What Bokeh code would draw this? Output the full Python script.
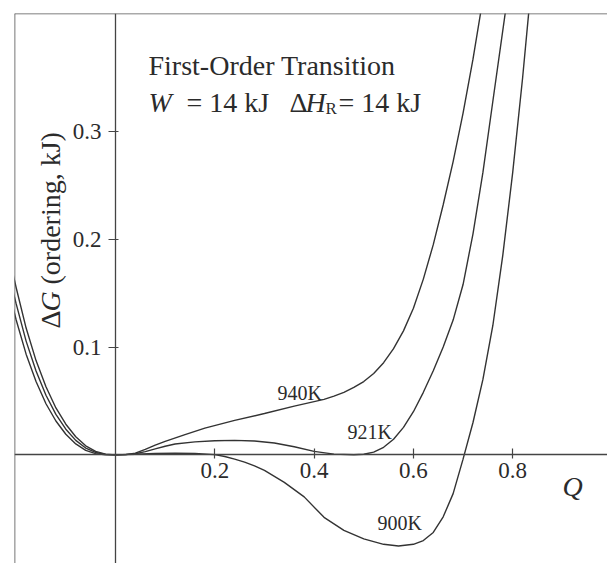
import math
from bokeh.plotting import figure
from bokeh.models import Range1d, FixedTicker, Label, Span
from bokeh.embed import file_html
from bokeh.resources import INLINE

# ---------------- data ----------------
q_940 = [-0.21, -0.20, -0.18, -0.16, -0.14, -0.12, -0.10, -0.08, -0.06, -0.04, -0.02, 0.00,
         0.02, 0.04, 0.06, 0.08, 0.10, 0.14, 0.18, 0.24, 0.30, 0.36, 0.42, 0.44, 0.46, 0.48,
         0.50, 0.52, 0.54, 0.56, 0.58, 0.60, 0.62, 0.64, 0.66, 0.68, 0.70, 0.72, 0.735, 0.745]
g_940 = [0.175, 0.155, 0.1176, 0.0874, 0.0632, 0.0435, 0.0284, 0.0168, 0.0084, 0.0032, 0.0006, 0.0,
         0.0002, 0.0015, 0.0050, 0.0090, 0.0125, 0.0188, 0.0248, 0.0320, 0.0383, 0.0452, 0.0515, 0.0545,
         0.0580, 0.0625, 0.0680, 0.0755, 0.0855, 0.0985, 0.115, 0.136, 0.163, 0.195, 0.232, 0.272,
         0.317, 0.367, 0.409, 0.44]

q_921 = [-0.21, -0.20, -0.18, -0.16, -0.14, -0.12, -0.10, -0.08, -0.06, -0.04, -0.02, 0.00,
         0.02, 0.04, 0.06, 0.08, 0.10, 0.12, 0.16, 0.20, 0.24, 0.28, 0.32, 0.36, 0.40, 0.44,
         0.48, 0.50, 0.52, 0.54, 0.56, 0.58, 0.60, 0.62, 0.64, 0.66, 0.68, 0.70, 0.72, 0.74,
         0.76, 0.785, 0.795]
g_921 = [0.1588, 0.140, 0.1055, 0.0777, 0.0553, 0.0375, 0.0238, 0.0134, 0.0063, 0.0022, 0.0004, 0.0,
         0.0002, 0.0010, 0.0030, 0.0055, 0.0080, 0.0100, 0.0120, 0.0131, 0.0134, 0.0128, 0.0110, 0.0075,
         0.0032, 0.0007, 0.0001, 0.0005, 0.0025, 0.0070, 0.0145, 0.0255, 0.040, 0.058, 0.078, 0.100,
         0.125, 0.158, 0.205, 0.262, 0.328, 0.410, 0.445]

q_900 = [-0.21, -0.20, -0.18, -0.16, -0.14, -0.12, -0.10, -0.08, -0.06, -0.04, -0.02, 0.00,
         0.04, 0.08, 0.12, 0.16, 0.20, 0.22, 0.24, 0.26, 0.28, 0.30, 0.34, 0.38, 0.42, 0.46,
         0.50, 0.54, 0.57, 0.60, 0.62, 0.64, 0.66, 0.68, 0.70, 0.72, 0.74, 0.76, 0.78, 0.80,
         0.82, 0.832, 0.84]
g_900 = [0.1438, 0.1251, 0.0934, 0.068, 0.0474, 0.0314, 0.0191, 0.0101, 0.0042, 0.0011, 0.0001, 0.0,
         0.0005, 0.0012, 0.0016, 0.0013, 0.0002, -0.0015, -0.0040, -0.0068, -0.0102, -0.0145, -0.0255,
         -0.0390, -0.0580, -0.0700, -0.0780, -0.0830, -0.0846, -0.0830, -0.0795, -0.0720, -0.0575,
         -0.0360, -0.0040, 0.030, 0.070, 0.120, 0.185, 0.262, 0.350, 0.409, 0.45]

curve_names = ["940K", "921K", "900K"]
x_ticks = [0.2, 0.4, 0.6, 0.8]
x_tick_labels = ["0.2", "0.4", "0.6", "0.8"]
y_ticks = [0.1, 0.2, 0.3]
y_tick_labels = ["0.1", "0.2", "0.3"]

# ---------------- layout ----------------
W, H = 607, 563
FL, FT = 14, 13            # frame left / top in pixels
X0, X1 = -0.2034, 0.9909
Y0, Y1 = -0.1008, 0.4094
FONT = "Liberation Serif"
INK = "#2b2b2b"
LINE = "#333333"


def dx(px):
    return X0 + (px - FL) / (W - FL) * (X1 - X0)


def dy(py):
    return Y1 - (py - FT) / (H - FT) * (Y1 - Y0)


p = figure(width=W, height=H, output_backend="svg", toolbar_location=None,
           x_range=Range1d(X0, X1), y_range=Range1d(Y0, Y1),
           min_border_left=FL, min_border_top=FT, min_border_right=0, min_border_bottom=0)
p.outline_line_color = None
p.background_fill_color = "white"
p.border_fill_color = "white"
p.xgrid.visible = False
p.ygrid.visible = False

# axes crossing at the origin
xa = p.xaxis[0]
ya = p.yaxis[0]
xa.fixed_location = 0
ya.fixed_location = 0
xa.ticker = FixedTicker(ticks=x_ticks)
ya.ticker = FixedTicker(ticks=y_ticks)
xa.major_label_overrides = {t: l for t, l in zip(x_ticks, x_tick_labels)}
ya.major_label_overrides = {t: l for t, l in zip(y_ticks, y_tick_labels)}
for ax in (xa, ya):
    ax.axis_line_color = "#444444"
    ax.axis_line_width = 1.3
    ax.major_tick_line_color = "#444444"
    ax.major_tick_line_width = 1.2
    ax.minor_tick_line_color = None
    ax.major_label_text_font = FONT
    ax.major_label_text_font_size = "23px"
    ax.major_label_text_color = INK
xa.major_tick_in = 6
xa.major_tick_out = 4
xa.major_label_standoff = 4
ya.major_tick_in = 3
ya.major_tick_out = 7
ya.major_label_standoff = 7

# frame border (left and top)
p.add_layout(Span(location=X0, dimension="height", line_color="#555555", line_width=1.6))
p.add_layout(Span(location=Y1, dimension="width", line_color="#555555", line_width=1.6))

# curves
for qs, gs in ((q_940, g_940), (q_921, g_921), (q_900, g_900)):
    p.line(qs, gs, line_color=LINE, line_width=1.4)


def lab(text, px, py, size, style="normal", angle=0.0):
    p.add_layout(Label(x=dx(px), y=dy(py), text=text, text_font=FONT,
                       text_font_size=size, text_font_style=style, text_color=INK,
                       text_align="left", text_baseline="alphabetic", angle=angle))


# curve labels
lab(curve_names[0], 277, 392, "20px")
lab(curve_names[1], 347, 431, "20px")
lab(curve_names[2], 377, 522, "20px")

# title block
lab("First-Order Transition", 148, 65, "28px")
lab("W", 148, 102, "28px", "italic")
lab("= 14 kJ", 186, 102, "28px")
lab("\u0394", 289, 102, "28px")
lab("H", 305, 102, "28px", "italic")
lab("R", 325, 108, "17px")
lab("= 14 kJ", 338, 102, "28px")

# axis titles
lab("Q", 562, 486, "28px", "italic")
lab("\u0394", 50, 328, "28px", angle=math.pi / 2)
lab("G", 50, 311, "28px", "italic", angle=math.pi / 2)
lab("(ordering, kJ)", 50, 284, "28px", angle=math.pi / 2)

open("out.html", "w").write(file_html(p, INLINE))
